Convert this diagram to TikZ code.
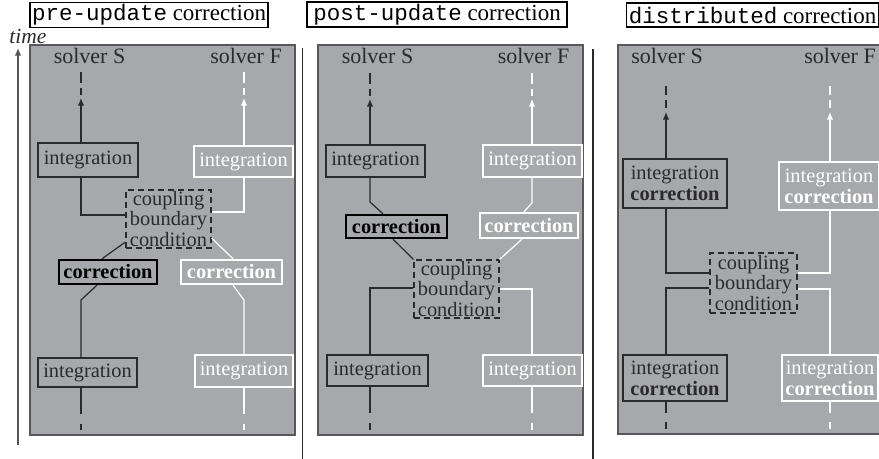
\documentclass[tikz,border=0pt]{standalone}
\usepackage{fontspec}
\setmainfont{Liberation Serif}
\setmonofont{Liberation Mono}
\usetikzlibrary{arrows.meta,calc}
\definecolor{panelgray}{HTML}{A7A8AB}
\definecolor{panelborder}{HTML}{58585A}
\definecolor{sdark}{HTML}{2A2A2C}
\definecolor{axisgray}{HTML}{555555}
\begin{document}
\begin{tikzpicture}[x=0.5pt,y=-0.5pt,
  panel/.style={fill=panelgray,draw=panelborder,line width=0.7pt},
  titlebox/.style={draw=black,line width=0.6pt,fill=white,inner sep=1pt,minimum height=12pt,font=\fontsize{11.5}{12}\selectfont},
  bodyfont/.style={font=\fontsize{10.2}{8.6}\selectfont},
  sbox/.style={draw=sdark,line width=0.6pt,text=sdark,inner sep=0pt,bodyfont,align=center},
  fbox/.style={draw=white,line width=0.6pt,text=white,inner sep=0pt,bodyfont,align=center},
  scor/.style={sbox,line width=1.2pt,draw=black,text=black,font=\fontsize{10.2}{8.6}\selectfont\bfseries},
  fcor/.style={fbox,line width=1.2pt,font=\fontsize{10.2}{8.6}\selectfont\bfseries},
  twoline/.style={font=\fontsize{10.2}{10.5}\selectfont},
  coup/.style={draw=sdark,dash pattern=on 3pt off 2pt,line width=0.6pt,text=sdark,inner sep=0pt,align=center,bodyfont},
  solver/.style={text=sdark,inner sep=0pt,font=\fontsize{11}{12}\selectfont},
  sline/.style={draw=sdark,line width=0.6pt},
  fline/.style={draw=white,line width=0.6pt},
  tiparrow/.style={-{Latex[length=3.8pt,width=3.2pt]}},
  topdash/.style={dash pattern=on 5.5pt off 2.5pt on 3.5pt off 8pt},
  topdashb/.style={dash pattern=on 4.5pt off 2.5pt on 4pt off 8pt},
  botdash/.style={dash pattern=on 13pt off 5pt on 3.5pt off 10pt},
  botdashb/.style={dash pattern=on 5.5pt off 4.5pt on 4pt off 10pt},
  sep/.style={draw=sdark,line width=0.6pt},
]
\useasboundingbox (0,0) rectangle (879,459);

% time axis and separators
\coordinate (timeBot) at (18,445);
\coordinate (timeTop) at (18,48);
\draw[draw=axisgray,line width=0.6pt,tiparrow] (timeBot) -- (timeTop);
\node[text=sdark,inner sep=0pt,font=\fontsize{10.75}{12}\selectfont\itshape] (timelbl) at (28,36) {time};
\coordinate (sep1a) at (302.7,48); \coordinate (sep1b) at (302.7,459);
\coordinate (sep2a) at (593,49);   \coordinate (sep2b) at (593,459);
\draw[sep] (sep1a) -- (sep1b);
\draw[sep] (sep2a) -- (sep2b);

% titles
\node[titlebox,minimum width=119pt] (t1) at (149,15) {{\fontsize{11.25}{12}\selectfont\ttfamily pre-update} correction};
\node[titlebox,minimum width=130pt] (t2) at (437,14.5) {{\fontsize{11.25}{12}\selectfont\ttfamily post-update} correction};
\node[titlebox,minimum width=125.5pt] (t3) at (752.5,15) {{\fontsize{11.25}{12}\selectfont\ttfamily distributed} correction};

% panels
\draw[panel] (30,45) rectangle (295,435);
\draw[panel] (318,45) rectangle (583,435);
\draw[panel] (618,45) rectangle (890,434);

% ===== panel 1: pre-update =====
\node[solver] (solS1) at (89.5,56) {solver S};
\node[solver] (solF1) at (246,56) {solver F};
\node[sbox,minimum width=50pt,minimum height=17pt] (intS1t) at (88,160) {integration};
\node[fbox,minimum width=49.5pt,minimum height=15.5pt] (intF1t) at (243.5,161.5) {integration};
\node[coup,minimum width=42.5pt,minimum height=29pt] (coup1) at (168.5,219) {coupling\\boundary\\condition};
\node[scor,minimum width=49pt,minimum height=12pt] (corS1) at (108,272) {correction};
\node[fcor,minimum width=50.5pt,minimum height=12pt] (corF1) at (231.5,272) {correction};
\node[sbox,minimum width=49.5pt,minimum height=14.5pt] (intS1b) at (87.5,372.5) {integration};
\node[fbox,minimum width=49pt,minimum height=16pt] (intF1b) at (244,371) {integration};

\coordinate (topS1) at (81,72);  \coordinate (tipS1) at (81,98);
\coordinate (topF1) at (244,72); \coordinate (tipF1) at (244,98);
\coordinate (kS1) at (81,300);   \coordinate (kF1) at (244,300);
\coordinate (botS1) at (81,430); \coordinate (botF1) at (244,430);

\draw[sline,tiparrow] (intS1t.north -| topS1) -- (tipS1);
\draw[sline,topdash] (topS1) -- (tipS1);
\draw[fline,tiparrow] (intF1t.north -| topF1) -- (tipF1);
\draw[fline,topdash] (topF1) -- (tipF1);
\draw[sline] (intS1t.south -| topS1) |- ($(coup1.west)+(0,-4)$);
\draw[fline] (intF1t.south -| topF1) |- ($(coup1.east)+(0,-7)$);
\draw[sline] ($(coup1.west)+(0,23)$) -- ($(corS1.north)+(-6,0)$);
\draw[fline] ($(coup1.east)+(0,19)$) -- ($(corF1.north)+(1.5,0)$);
\draw[sline] ($(corS1.south)+(-11,0)$) -- (kS1) -- (intS1b.north -| topS1);
\draw[fline] ($(corF1.south)+(1.5,0)$) -- (kF1) -- (intF1b.north -| topF1);
\draw[sline,botdash] (intS1b.south -| topS1) -- (botS1);
\draw[fline,botdash] (intF1b.south -| topF1) -- (botF1);

% ===== panel 2: post-update =====
\node[solver] (solS2) at (377.5,56) {solver S};
\node[solver] (solF2) at (533.5,56) {solver F};
\node[sbox,minimum width=49.5pt,minimum height=16pt] (intS2t) at (375.5,161) {integration};
\node[fbox,minimum width=49.5pt,minimum height=16pt] (intF2t) at (532.5,161) {integration};
\node[scor,minimum width=50.5pt,minimum height=11.5pt] (corS2) at (396.5,226.5) {correction};
\node[fcor,minimum width=49pt,minimum height=12.5pt] (corF2) at (529,225.5) {correction};
\node[coup,minimum width=42.5pt,minimum height=29pt] (coup2) at (456.5,289) {coupling\\boundary\\condition};
\node[sbox,minimum width=50.5pt,minimum height=15.5pt] (intS2b) at (377.5,370.5) {integration};
\node[fbox,minimum width=49.5pt,minimum height=15.5pt] (intF2b) at (532.5,370.5) {integration};

\coordinate (topS2) at (370,73);  \coordinate (tipS2) at (370,99);
\coordinate (topF2) at (532,73);  \coordinate (tipF2) at (532,99);
\coordinate (kS2) at (370,202);   \coordinate (kF2) at (532,203);
\coordinate (botS2) at (370,430); \coordinate (botF2) at (532,430);

\draw[sline,tiparrow] (intS2t.north -| topS2) -- (tipS2);
\draw[sline,topdash] (topS2) -- (tipS2);
\draw[fline,tiparrow] (intF2t.north -| topF2) -- (tipF2);
\draw[fline,topdash] (topF2) -- (tipF2);
\draw[sline] (intS2t.south -| topS2) -- (kS2) -- ($(corS2.north)+(-13.5,0)$);
\draw[fline] (intF2t.south -| topF2) -- (kF2) -- ($(corF2.north)+(-5,0)$);
\draw[sline] ($(corS2.south)+(-3.5,0)$) -- (coup2.north west);
\draw[fline] ($(corF2.south)+(-7,0)$) -- (coup2.north east);
\draw[sline] ($(coup2.west)+(0,-1)$) -| (intS2b.north -| topS2);
\draw[fline] ($(coup2.east)+(0,0)$) -| (intF2b.north -| topF2);
\draw[sline,botdash] (intS2b.south -| topS2) -- (botS2);
\draw[fline,botdash] (intF2b.south -| topF2) -- (botF2);

% ===== panel 3: distributed =====
\node[solver] (solS3) at (667,56) {solver S};
\node[solver] (solF3) at (840,56) {solver F};
\node[sbox,twoline,minimum width=52pt,minimum height=24.5pt] (icS3t) at (675,183.5) {integration\\\textbf{correction}};
\node[fbox,twoline,minimum width=50pt,minimum height=24pt] (icF3t) at (829,186) {integration\\\textbf{correction}};
\node[coup,minimum width=43.5pt,minimum height=30pt] (coup3) at (753.5,283) {coupling\\boundary\\condition};
\node[sbox,twoline,minimum width=52pt,minimum height=23pt] (icS3b) at (675,378) {integration\\\textbf{correction}};
\node[fbox,twoline,minimum width=48pt,minimum height=23pt] (icF3b) at (830,378) {integration\\\textbf{correction}};

\coordinate (topS3) at (666,86);  \coordinate (tipS3) at (666,112);
\coordinate (topF3) at (830,86);  \coordinate (tipF3) at (830,112);
\coordinate (botS3) at (666,429); \coordinate (botF3) at (830,429);

\draw[sline,tiparrow] (icS3t.north -| topS3) -- (tipS3);
\draw[sline,topdashb] (topS3) -- (tipS3);
\draw[fline,tiparrow] (icF3t.north -| topF3) -- (tipF3);
\draw[fline,topdashb] (topF3) -- (tipF3);
\draw[sline] (icS3t.south -| topS3) |- ($(coup3.west)+(0,-10)$);
\draw[fline] (icF3t.south -| topF3) |- ($(coup3.east)+(0,-10)$);
\draw[sline] ($(coup3.west)+(0,5)$) -| (icS3b.north -| topS3);
\draw[fline] ($(coup3.east)+(0,6)$) -| (icF3b.north -| topF3);
\draw[sline,botdashb] (icS3b.south -| topS3) -- (botS3);
\draw[fline,botdashb] (icF3b.south -| topF3) -- (botF3);
\end{tikzpicture}
\end{document}
